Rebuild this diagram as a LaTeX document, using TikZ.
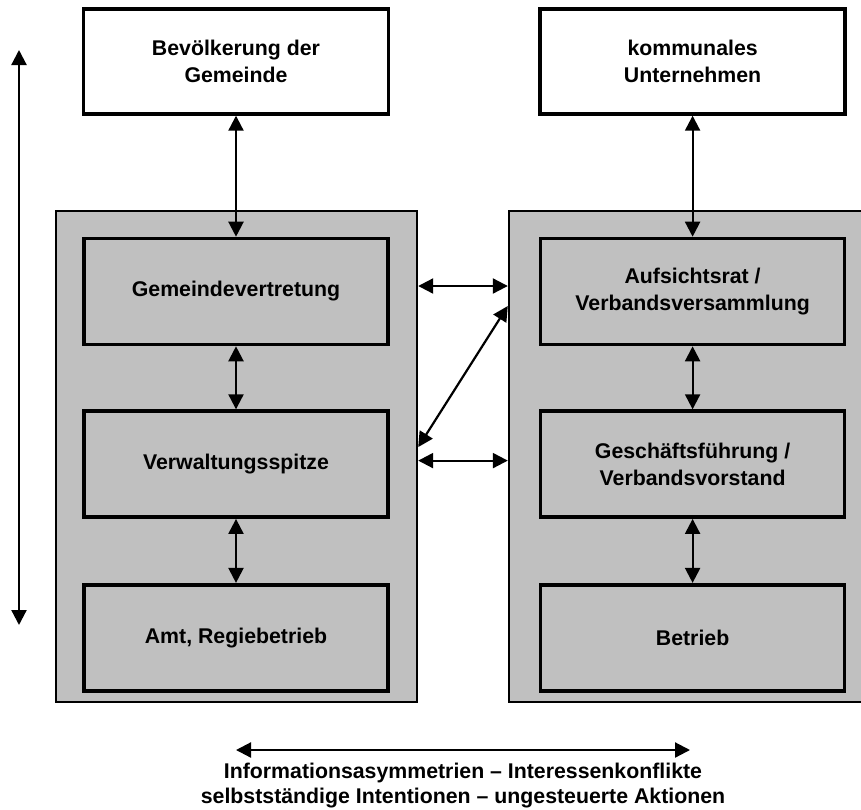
\documentclass[tikz,border=0pt]{standalone}
\usepackage{fontspec}
\setmainfont{Liberation Sans}
\usetikzlibrary{arrows.meta, positioning, calc}

\definecolor{silber}{RGB}{192,192,192}

\begin{document}
\begin{tikzpicture}[
    x=1pt, y=-1pt,
    node distance=63pt and 149pt,
    block/.style={rectangle, draw, line width=3.6pt, minimum height=106pt, minimum width=304pt, inner sep=0pt, align=center, fill=silber, font=\bfseries\fontsize{21.3}{27}\selectfont},
    topblock/.style={block, fill=white, minimum height=105pt, minimum width=305pt},
    group/.style={rectangle, draw, line width=2.4pt, fill=silber, inner sep=0pt},
    arrow/.style={{Triangle[length=15pt, width=15pt]}-{Triangle[length=15pt, width=15pt]}, line width=2.2pt},
    caption/.style={align=center, font=\bfseries\fontsize{21.3}{25}\selectfont}
]
    \useasboundingbox (0,0) rectangle (861,809);

    % Gray frames for municipality and company
    \node[group, minimum width=361pt, minimum height=491pt] (links) at (236.5,456.5) {};
    \node[group, minimum width=358pt, minimum height=491pt] (rechts) at (688,456.5) {};

    % Municipality side
    \node[block] (gv) at (236,291.5) {Gemeindevertretung};
    \node[block, below=of gv] (vs) {Verwaltungsspitze};
    \node[block, below=64pt of vs] (amt) {Amt, Regiebetrieb};
    \node[topblock, above=121pt of gv] (bev) {Bevölkerung der\\Gemeinde};

    % Company side
    \node[block, right=of gv] (ar) {Aufsichtsrat /\\Verbandsversammlung};
    \node[block, below=of ar] (gf) {Geschäftsführung /\\Verbandsvorstand};
    \node[block, below=64pt of gf] (betrieb) {Betrieb};
    \node[topblock, above=121pt of ar] (ku) {kommunales\\Unternehmen};

    % Bottom caption
    \node[caption] (konflikt) at (463,786) {Informationsasymmetrien – Interessenkonflikte\\selbstständige Intentionen – ungesteuerte Aktionen};

    % Free ends
    \coordinate (oben) at (19,50);
    \coordinate (unten) at (19,625);
    \coordinate (kl) at (236,750);
    \coordinate (kr) at (690,750);

    % Vertical links
    \draw[arrow] (bev) -- (gv);
    \draw[arrow] (gv) -- (vs);
    \draw[arrow] (vs) -- (amt);
    \draw[arrow] (ku) -- (ar);
    \draw[arrow] (ar) -- (gf);
    \draw[arrow] (gf) -- (betrieb);

    % Links between the frames
    \draw[arrow] ($(links.east |- gv.center)+(0,-5.5)$) -- ($(rechts.west |- gv.center)+(0,-5.5)$);
    \draw[arrow] ($(links.east |- vs.center)+(0,-17)$) -- ($(rechts.west |- ar.center)+(0,14.5)$);
    \draw[arrow] ($(links.east |- vs.center)+(0,-3.5)$) -- ($(rechts.west |- vs.center)+(0,-3.5)$);

    % Side and bottom arrows
    \draw[arrow] (unten) -- (oben);
    \draw[arrow] (kl) -- (kr);

\end{tikzpicture}
\end{document}
